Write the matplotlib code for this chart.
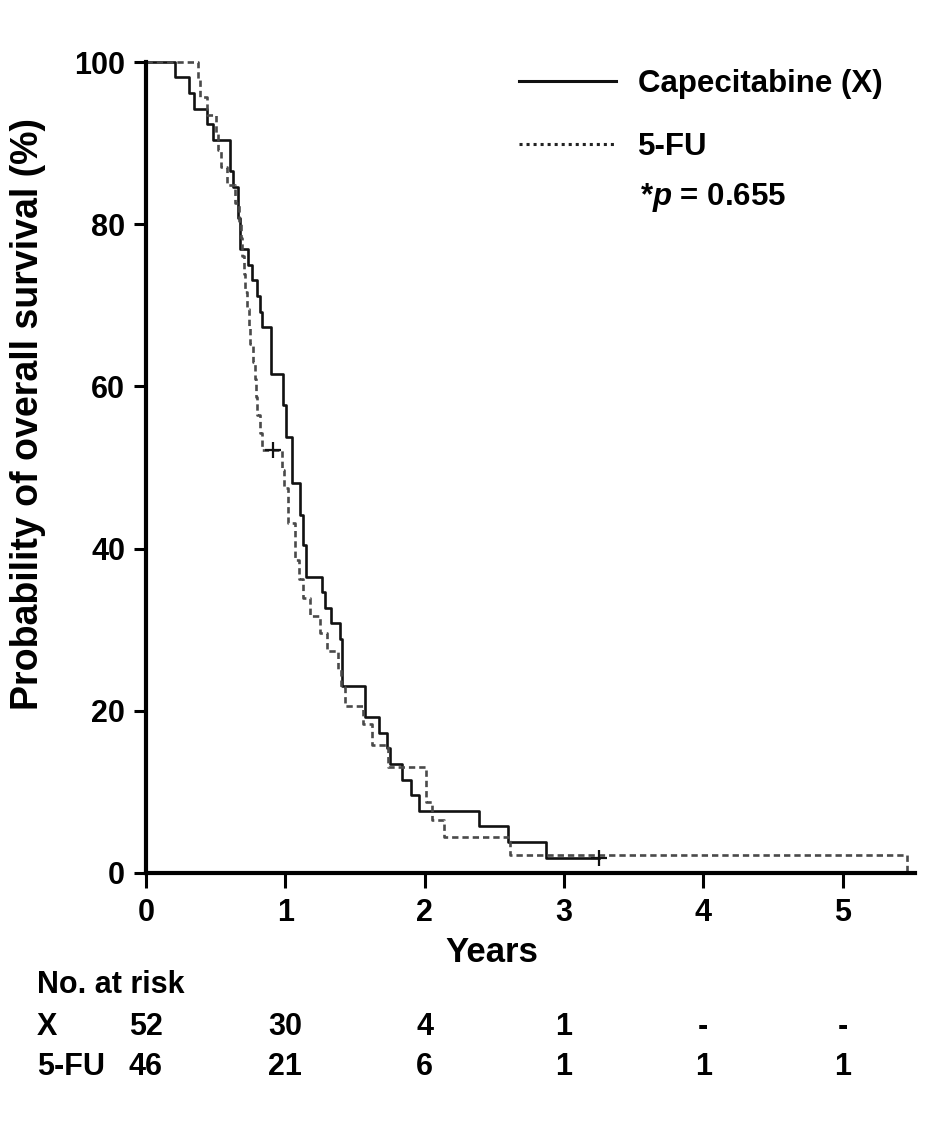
import matplotlib
matplotlib.use("Agg")
import matplotlib.pyplot as plt
import matplotlib.transforms as mtransforms
from matplotlib.lines import Line2D

# Kaplan-Meier steps (years, survival %)
x_years = [0, 0.21, 0.31, 0.345, 0.44, 0.48, 0.60, 0.625, 0.66, 0.675, 0.735, 0.76, 0.795,
           0.82, 0.83, 0.90, 0.985, 1.005, 1.045, 1.105, 1.13, 1.15, 1.26, 1.285, 1.33,
           1.39, 1.405, 1.57, 1.675, 1.73, 1.75, 1.835, 1.905, 1.96, 2.39, 2.60, 2.87, 3.25]
x_surv = [100, 98.1, 96.2, 94.2, 92.3, 90.4, 86.5, 84.6, 80.8, 76.9, 75.0, 73.1, 71.2,
          69.2, 67.3, 61.5, 57.7, 53.8, 48.1, 44.2, 40.4, 36.5, 34.6, 32.7, 30.8,
          28.8, 23.1, 19.2, 17.3, 15.4, 13.5, 11.5, 9.6, 7.7, 5.8, 3.8, 1.9, 1.9]

fu_years = [0, 0.375, 0.39, 0.44, 0.50, 0.52, 0.535, 0.58, 0.64, 0.665, 0.68, 0.69, 0.70,
            0.71, 0.725, 0.74, 0.75, 0.765, 0.78, 0.79, 0.80, 0.815, 0.83, 0.975, 0.99,
            1.02, 1.07, 1.095, 1.13, 1.18, 1.25, 1.30, 1.38, 1.40, 1.43, 1.56, 1.625,
            1.74, 2.01, 2.05, 2.14, 2.61, 5.46, 5.46]
fu_surv = [100, 97.8, 95.7, 93.5, 91.3, 89.1, 87.0, 84.8, 82.6, 80.4, 78.3, 76.1, 73.9,
           71.7, 69.6, 67.4, 65.2, 63.0, 60.9, 58.7, 56.5, 54.3, 52.2, 49.7, 47.5,
           43.1, 38.6, 36.2, 33.9, 31.7, 29.6, 27.4, 25.1, 22.9, 20.6, 18.4, 15.8,
           13.1, 8.7, 6.5, 4.4, 2.2, 2.2, 0]

# censored observations
x_cens = ([3.25], [1.9])
fu_cens = ([0.91], [52.2])

risk_years = [0, 1, 2, 3, 4, 5]
risk_x = ["52", "30", "4", "1", "-", "-"]
risk_fu = ["46", "21", "6", "1", "1", "1"]

fam = "Liberation Sans"
plt.rcParams["font.family"] = [fam, "DejaVu Sans"]
plt.rcParams["font.weight"] = "bold"
plt.rcParams["mathtext.fontset"] = "custom"
plt.rcParams["mathtext.it"] = fam + ":italic:bold"
plt.rcParams["mathtext.rm"] = fam + ":bold"

W, H = 945, 1122
fig = plt.figure(figsize=(W / 100, H / 100), dpi=100)
ax = fig.add_axes([146 / W, 1 - 873 / H, (915 - 146) / W, (873 - 62) / H])

ax.step(x_years, x_surv, where="post", color="#111111", lw=1.9, clip_on=False)
ax.step(fu_years, fu_surv, where="post", color="#4a4a4a", lw=1.9,
        linestyle=(0, (2.4, 1.5)), clip_on=False)
ax.plot(*x_cens, marker="+", ms=11, mew=1.6, color="#111111", ls="none", clip_on=False)
ax.plot(*fu_cens, marker="+", ms=11, mew=1.6, color="#111111", ls="none", clip_on=False)

ax.set_xlim(0, 5.52)
ax.set_ylim(0, 100)
ax.set_xticks(risk_years)
ax.set_yticks([0, 20, 40, 60, 80, 100])
for s in ["top", "right"]:
    ax.spines[s].set_visible(False)
for s in ["left", "bottom"]:
    ax.spines[s].set_linewidth(3)
ax.tick_params(axis="x", length=11, width=2.2, pad=7, labelsize=22)
ax.tick_params(axis="y", length=9, width=2.2, pad=6, labelsize=22)

fig.text(28 / W, 1 - 414 / H, "Probability of overall survival (%)", rotation=90,
         ha="center", va="center", fontsize=27)
fig.text(492 / W, 1 - 953 / H, "Years", ha="center", va="center", fontsize=25)

handles = [Line2D([], [], color="#111111", lw=2.2),
           Line2D([], [], color="#222222", lw=2.2, linestyle=(0, (1, 1.3)))]
ax.legend(handles, ["Capecitabine (X)", "5-FU"], loc="upper left",
          bbox_to_anchor=(519 / W, 1 - 69 / H), bbox_transform=fig.transFigure,
          frameon=False, fontsize=22.5, handlelength=3.1, handletextpad=0.72,
          labelspacing=1.05, borderpad=0, borderaxespad=0)
fig.text(640 / W, 1 - 198 / H, "*$p$ = 0.655", ha="left", va="center", fontsize=22.5)

# number at risk table
fig.text(37 / W, 1 - 985 / H, "No. at risk", ha="left", va="center", fontsize=22)
fig.text(37 / W, 1 - 1027 / H, "X", ha="left", va="center", fontsize=22)
fig.text(37 / W, 1 - 1067 / H, "5-FU", ha="left", va="center", fontsize=22)
row_y = [1 - 1027 / H, 1 - 1067 / H]
col_tr = mtransforms.blended_transform_factory(ax.transData, fig.transFigure)
for vals, yy in zip([risk_x, risk_fu], row_y):
    for t, v in zip(risk_years, vals):
        ax.text(t, yy, v, ha="center", va="center", fontsize=22, transform=col_tr)

fig.savefig("out.png", dpi=100)
